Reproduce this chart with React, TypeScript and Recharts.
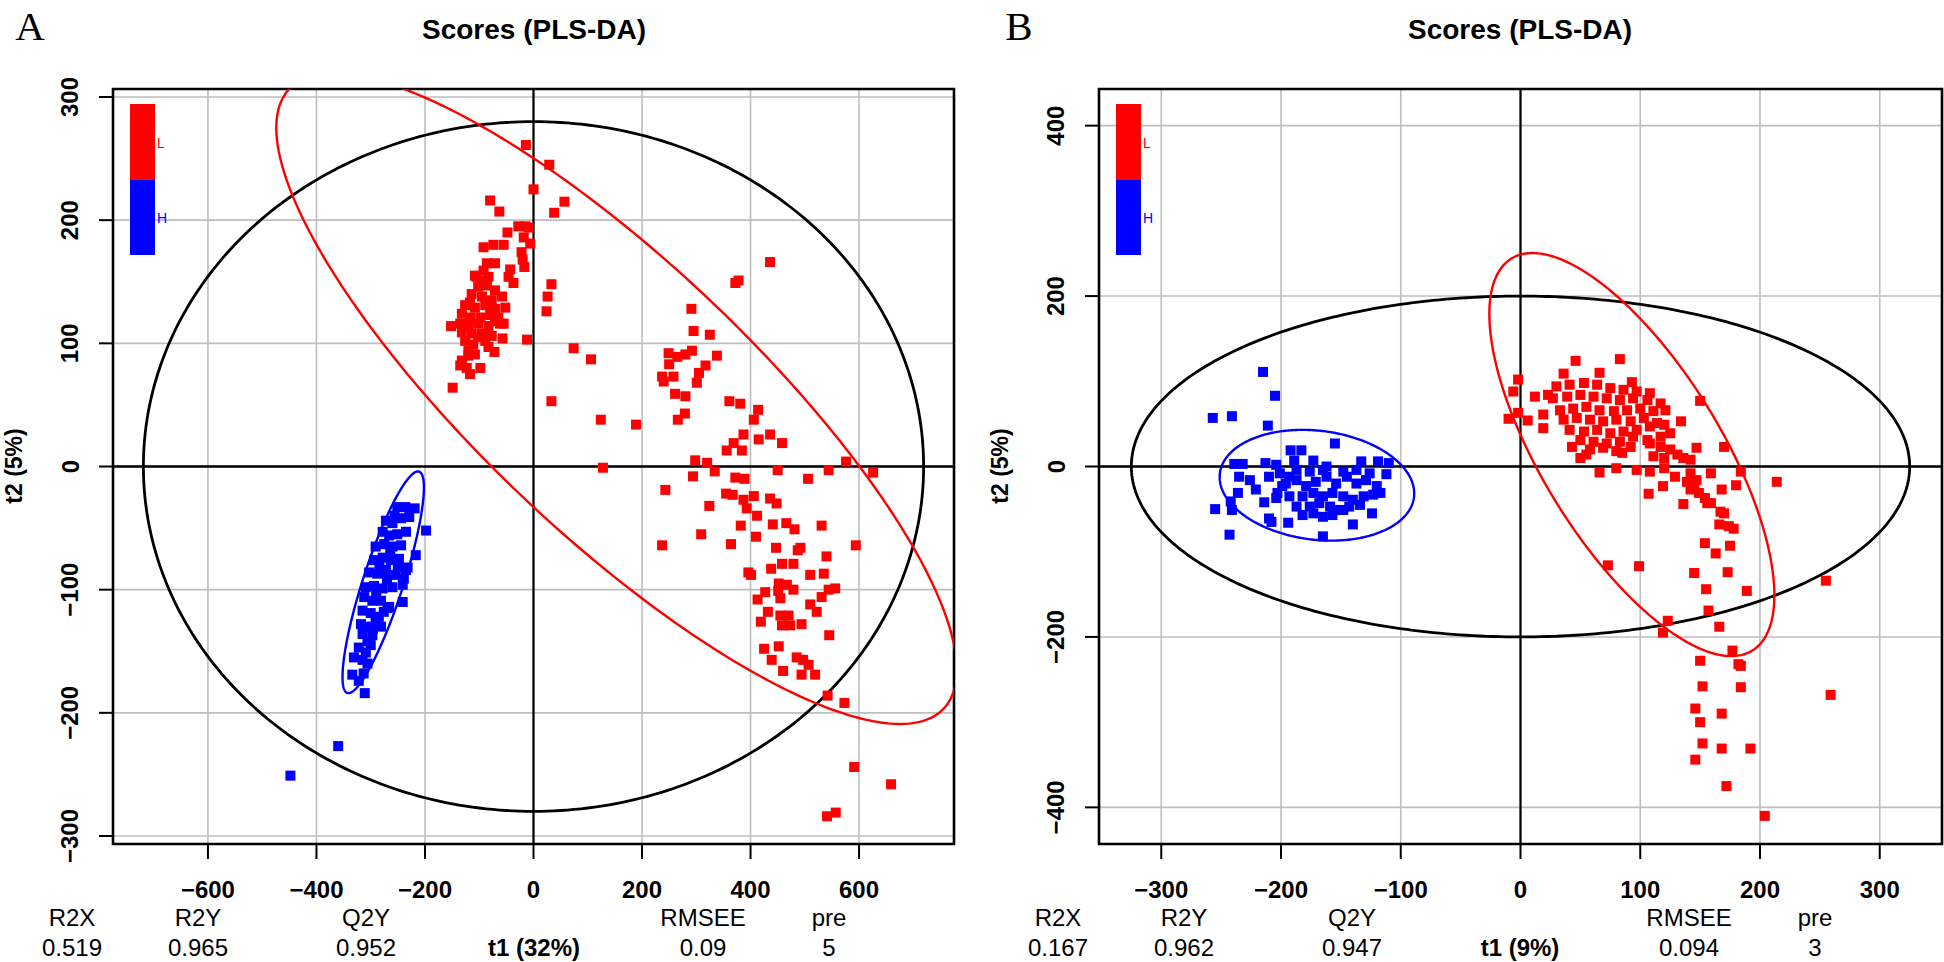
import React from 'react';
import {
  ScatterChart, Scatter, XAxis, YAxis, CartesianGrid, ReferenceLine, ReferenceArea,
} from 'recharts';

// ---------- Panel A data (t1, t2 scores) ----------
const A_L_SCORES: [number, number][] = [
  [-14,261],[29,245],[0,225],[-80,216],[-63,207],[57,215],[38,206],[-48,190],[-28,195],[-15,195],[-9,194],[-18,186],[-6,181],
  [-92,178],[-74,180],[-55,180],[-22,174],[-20,168],[-17,162],[-71,165],[-43,160],[-46,154],[-37,149],[-108,155],[-92,159],
  [-83,154],[33,148],[26,138],[24,126],
  [-102,146],[-86,147],[-71,143],[-114,140],[-95,138],[-77,135],[-58,138],[-126,131],[-108,129],[-89,131],[-71,128],[-52,129],
  [-132,124],[-117,121],[-98,121],[-80,123],[-65,121],[-135,116],[-120,114],[-102,116],[-83,114],[-62,116],[-55,116],[-132,109],
  [-114,108],[-95,108],[-77,106],[-126,102],[-111,99],[-89,102],[-120,94],[-108,91],[-132,86],[-123,80],[-135,82],[-117,75],
  [-120,90],[-105,154],[-86,165],[-95,151],[-117,133],[-71,118],[-102,105],[-83,97],
  [-152,114],[-57,104],[-12,103],[-72,93],[-98,80],[-149,64],[74,96],[106,87],[33,53],[124,38],[189,34],[128,-1],
  [291,128],[295,110],[325,107],[249,92],[265,89],[280,91],[292,94],[250,83],[338,90],[317,82],[305,76],[301,68],[258,73],
  [240,69],[237,73],[261,59],[280,57],[279,43],[266,38],[298,5],[320,3],[436,166],[372,149],[378,151],[361,53],[381,51],
  [414,46],[406,38],[387,26],[369,19],[356,13],[384,13],[415,22],[436,26],[458,19],[576,4],[334,-4],[450,-3],[544,-3],
  [506,-10],[626,-5],[294,-8],[372,-9],[389,-10],[243,-19],[355,-22],[367,-23],[387,-27],[406,-24],[393,-34],[436,-26],
  [448,-30],[324,-32],[412,-40],[382,-48],[441,-47],[466,-46],[481,-51],[531,-48],[309,-55],[410,-57],[364,-63],[447,-66],
  [487,-68],[492,-66],[540,-73],[594,-64],[237,-64],
  [396,-86],[401,-88],[438,-83],[458,-79],[479,-79],[510,-88],[535,-87],[452,-95],[467,-96],[479,-100],[451,-101],[427,-102],
  [413,-108],[455,-107],[544,-100],[556,-99],[531,-106],[510,-112],[522,-118],[432,-118],[419,-126],[455,-121],[470,-121],
  [458,-129],[473,-129],[494,-128],[545,-137],[425,-148],[452,-146],[439,-157],[460,-166],[485,-155],[497,-157],[507,-161],
  [494,-169],[519,-169],[542,-186],[573,-192],[591,-244],[659,-258],[541,-284],[557,-281],
];
const A_H_SCORES: [number, number][] = [
  [-251,-33],[-236,-33],[-219,-34],[-198,-52],[-272,-44],[-260,-46],[-244,-42],[-229,-41],[-278,-53],[-266,-56],[-251,-55],
  [-235,-53],[-291,-65],[-275,-63],[-260,-65],[-244,-64],[-217,-72],[-294,-76],[-278,-74],[-263,-76],[-248,-75],[-232,-82],
  [-235,-84],[-303,-86],[-288,-87],[-272,-84],[-254,-88],[-239,-91],[-309,-98],[-294,-97],[-278,-99],[-260,-98],[-241,-96],
  [-312,-106],[-297,-109],[-281,-109],[-266,-114],[-241,-110],[-315,-117],[-300,-119],[-285,-122],[-269,-115],[-318,-128],
  [-306,-130],[-291,-126],[-281,-130],[-315,-136],[-297,-137],[-306,-142],[-322,-147],[-309,-151],[-300,-145],[-331,-155],
  [-315,-157],[-306,-160],[-334,-169],[-322,-174],[-313,-168],[-311,-184],[-256,-40],[-284,-80],[-270,-92],[-290,-102],
  [-276,-118],[-296,-132],[-264,-70],[-250,-82],[-360,-227],[-448,-251],
];

// ---------- Panel B data ----------
const B_L_SCORES: [number, number][] = [
  [46,124],[83,126],[36,109],[66,110],[-2,102],[-6,88],[93,99],[12,82],[23,84],[150,77],[-10,56],[-2,63],[6,54],[19,61],
  [19,45],[134,53],[43,23],[50,10],[55,14],[85,16],[66,-7],[80,-2],[97,-4],[108,-6],
  [30,94],[41,96],[53,98],[64,96],[75,92],[86,90],[97,88],[108,86],
  [27,80],[39,82],[50,84],[61,82],[72,80],[83,78],[94,80],[106,78],[117,74],
  [33,66],[44,68],[55,70],[66,66],[78,65],[89,66],[100,68],[111,65],[121,66],
  [36,55],[47,57],[58,55],[69,53],[80,55],[92,53],[103,57],[114,51],
  [41,43],[53,41],[64,43],[75,39],[86,41],[97,43],[108,47],[120,49],
  [50,31],[61,29],[72,27],[83,29],[94,35],[106,31],[117,35],[125,39],
  [58,20],[69,22],[80,18],[92,23],
  [108,27],[117,23],[125,20],[111,12],[120,10],[131,14],[136,10],[142,8],[147,22],[170,23],[120,-2],[129,-12],[142,-8],
  [147,-16],[159,-8],[184,-6],[180,-22],[168,-27],[214,-18],[107,-32],[119,-23],[136,-44],[142,-27],[145,-23],[149,-31],
  [154,-37],[159,-43],[167,-53],[170,-55],[139,-18],
  [156,-43],[166,-68],[174,-70],[178,-73],[154,-90],[163,-102],[175,-93],[73,-116],[99,-117],[145,-125],[173,-124],
  [155,-144],[189,-146],[157,-169],[255,-134],[123,-181],[119,-195],[166,-188],[177,-216],[150,-228],[182,-232],[184,-234],
  [152,-258],[184,-259],[259,-268],[146,-284],[168,-290],[150,-300],[152,-325],[168,-331],[192,-331],[146,-344],[172,-375],
  [204,-410],
];
const B_H_SCORES: [number, number][] = [
  [-215,111],[-205,83],[-257,57],[-241,59],[-211,48],[-155,27],[-192,19],[-183,19],[-189,7],[-239,3],[-232,3],[-213,4],
  [-204,2],[-173,7],[-162,0],[-133,6],[-119,6],[-110,4],[-235,-12],[-226,-16],[-221,-27],[-210,-12],[-201,-8],[-193,-12],
  [-112,-9],[-236,-31],[-242,-41],[-214,-42],[-204,-37],[-255,-50],[-241,-51],[-243,-80],[-210,-61],[-208,-65],[-194,-66],
  [-165,-82],[-140,-68],[-124,-55],
  [-196,-20],[-187,-16],[-179,-23],[-171,-18],[-162,-12],[-154,-20],[-145,-12],[-137,-20],[-129,-16],[-120,-23],
  [-182,-35],[-173,-31],[-165,-35],[-157,-31],[-148,-35],[-140,-39],[-131,-35],[-123,-33],[-117,-31],
  [-176,-47],[-168,-43],[-159,-47],[-151,-51],[-143,-47],[-134,-45],[-182,-57],[-173,-55],[-165,-59],[-157,-57],[-148,-51],
  [-187,-47],[-193,-35],[-199,-23],[-203,-31],[-187,-4],[-176,-6],[-165,-4],[-148,-6],[-137,-4],[-126,-8],
];

// ---------- Confidence ellipses (centre and covariance-like shape, in score units) ----------
type Ell = { cx: number; cy: number; sxx: number; syy: number; sxy: number };
const A_ELL_ALL: Ell = { cx: 0, cy: 0, sxx: 719 * 719, syy: 280 * 280, sxy: 0 };
const A_ELL_L: Ell = { cx: 153, cy: 55, sxx: 627 * 627, syy: 69716, sxy: -137940 };
const A_ELL_H: Ell = { cx: -277, cy: -94, sxx: 5625, syy: 8100, sxy: 5760 };
const B_ELL_ALL: Ell = { cx: 0, cy: 0, sxx: 325 * 325, syy: 200 * 200, sxy: 0 };
const B_ELL_L: Ell = { cx: 93, cy: 14, sxx: 14161, syy: 55932, sxy: -19630 };
const B_ELL_H: Ell = { cx: -170, cy: -22, sxx: 6600, syy: 4225, sxy: -780 };

// ---------- Axis ticks and texts ----------
const A_X_TICKS = [-600, -400, -200, 0, 200, 400, 600];
const A_Y_TICKS = [-300, -200, -100, 0, 100, 200, 300];
const B_X_TICKS = [-300, -200, -100, 0, 100, 200, 300];
const B_Y_TICKS = [-400, -200, 0, 200, 400];
const STAT_NAMES = ['R2X', 'R2Y', 'Q2Y', 'RMSEE', 'pre'];
const A_STATS = ['0.519', '0.965', '0.952', '0.09', '5'];
const B_STATS = ['0.167', '0.962', '0.947', '0.094', '3'];

const FONT = "'Liberation Sans', Arial, Helvetica, sans-serif";
const RED = '#ff0000';
const BLUE = '#0000ff';

function ellipsePoints(e: Ell, n = 360) {
  const a = Math.sqrt(e.sxx);
  const b = e.sxy / a;
  const c = Math.sqrt(e.syy - b * b);
  const pts: { x: number; y: number }[] = [];
  for (let i = 0; i <= n; i++) {
    const t = (2 * Math.PI * i) / n;
    pts.push({ x: e.cx + a * Math.cos(t), y: e.cy + b * Math.cos(t) + c * Math.sin(t) });
  }
  return pts;
}

const toPts = (arr: [number, number][]) => arr.map(([x, y]) => ({ x, y }));
const fmt = (v: number) => (v < 0 ? '\u2212' + Math.abs(v) : String(v));

const XTick = (p: any) => (
  <text x={p.x} y={p.y + 30} textAnchor="middle" dominantBaseline="central"
    fontFamily={FONT} fontWeight="bold" fontSize={24} fill="#000">{fmt(p.payload.value)}</text>
);
const YTick = (p: any) => {
  const cx = p.x - 29;
  return (
    <text x={cx} y={p.y} textAnchor="middle" dominantBaseline="central" transform={`rotate(-90, ${cx}, ${p.y})`}
      fontFamily={FONT} fontWeight="bold" fontSize={24} fill="#000">{fmt(p.payload.value)}</text>
  );
};

const square = (color: string) => (p: any) => (
  <rect x={p.cx - 5} y={p.cy - 5} width={10} height={10} fill={color} />
);
const noShape = () => <g />;

type PanelCfg = {
  left: number; ml: number; mr: number;
  xDomain: [number, number]; yDomain: [number, number];
  xTicks: number[]; yTicks: number[];
  L: [number, number][]; H: [number, number][];
  eAll: Ell; eL: Ell; eH: Ell;
};

const Panel = ({ c }: { c: PanelCfg }) => (
  <div style={{ position: 'absolute', left: c.left, top: 0 }}>
    <ScatterChart width={972} height={962} margin={{ top: 89, right: c.mr, bottom: 58, left: c.ml }}>
      <CartesianGrid stroke="#bebebe" strokeWidth={1.6} />
      <XAxis type="number" dataKey="x" domain={c.xDomain} ticks={c.xTicks} allowDataOverflow interval={0}
        axisLine={false} tickLine={{ stroke: '#000', strokeWidth: 2 }} tickSize={15} tickMargin={0} height={60} tick={XTick} />
      <YAxis type="number" dataKey="y" domain={c.yDomain} ticks={c.yTicks} allowDataOverflow interval={0}
        axisLine={false} tickLine={{ stroke: '#000', strokeWidth: 2 }} tickSize={14} tickMargin={0} width={60} tick={YTick} />
      <ReferenceLine x={0} stroke="#000" strokeWidth={2.2} />
      <ReferenceLine y={0} stroke="#000" strokeWidth={2.6} />
      <Scatter data={ellipsePoints(c.eAll)} shape={noShape} line={{ stroke: '#000', strokeWidth: 2.8 }} isAnimationActive={false} />
      <Scatter data={ellipsePoints(c.eL)} shape={noShape} line={{ stroke: RED, strokeWidth: 2.4 }} isAnimationActive={false} />
      <Scatter data={ellipsePoints(c.eH)} shape={noShape} line={{ stroke: BLUE, strokeWidth: 2.4 }} isAnimationActive={false} />
      <Scatter data={toPts(c.L)} shape={square(RED)} isAnimationActive={false} />
      <Scatter data={toPts(c.H)} shape={square(BLUE)} isAnimationActive={false} />
      <ReferenceArea x1={c.xDomain[0]} x2={c.xDomain[1]} y1={c.yDomain[0]} y2={c.yDomain[1]}
        fill="none" fillOpacity={0} stroke="#000" strokeWidth={2.6} />
    </ScatterChart>
  </div>
);

const T = ({ x, y, children, style }: any) => (
  <div style={{ position: 'absolute', left: x, top: y, transform: 'translate(-50%, -50%)', whiteSpace: 'nowrap',
    lineHeight: 1, fontFamily: FONT, fontSize: 24, color: '#000', ...style }}>{children}</div>
);

const Decor = ({ ox, letter, stats, t1 }: { ox: number; letter: string; stats: string[]; t1: string }) => {
  const sx = [72, 198, 366, 703, 829].map((v) => v + ox);
  return (
    <>
      <T x={ox + 30 + (letter === 'B' ? 3 : 0)} y={27} style={{ fontFamily: "'Liberation Serif', 'Times New Roman', serif", fontSize: 41, lineHeight: 1.3 }}>{letter}</T>
      <T x={ox + 534} y={30} style={{ fontWeight: 'bold', fontSize: 28 }}>Scores (PLS-DA)</T>
      <div style={{ position: 'absolute', left: ox + 14, top: 466, transform: 'translate(-50%, -50%) rotate(-90deg)',
        whiteSpace: 'nowrap', lineHeight: 1, fontFamily: FONT, fontWeight: 'bold', fontSize: 23 }}>t2 (5%)</div>
      {STAT_NAMES.map((n, i) => <T key={n} x={sx[i]} y={918}>{n}</T>)}
      {stats.map((v, i) => <T key={'v' + i} x={sx[i]} y={948}>{v}</T>)}
      <T x={ox + 534} y={948} style={{ fontWeight: 'bold' }}>{t1}</T>
    </>
  );
};

const LegendBar = ({ left }: { left: number }) => (
  <>
    <div style={{ position: 'absolute', left, top: 104, width: 25, height: 76, background: RED }} />
    <div style={{ position: 'absolute', left, top: 180, width: 25, height: 75, background: BLUE }} />
    <div style={{ position: 'absolute', left: left + 27, top: 143, transform: 'translateY(-50%)', color: RED, fontFamily: FONT, fontSize: 14, lineHeight: 1 }}>L</div>
    <div style={{ position: 'absolute', left: left + 27, top: 218, transform: 'translateY(-50%)', color: BLUE, fontFamily: FONT, fontSize: 14, lineHeight: 1 }}>H</div>
  </>
);

const PANEL_A: PanelCfg = {
  left: 0, ml: 53, mr: 18, xDomain: [-775, 775], yDomain: [-306.5, 306.5],
  xTicks: A_X_TICKS, yTicks: A_Y_TICKS, L: A_L_SCORES, H: A_H_SCORES,
  eAll: A_ELL_ALL, eL: A_ELL_L, eH: A_ELL_H,
};
const PANEL_B: PanelCfg = {
  left: 972, ml: 67, mr: 2, xDomain: [-352, 352], yDomain: [-443, 443],
  xTicks: B_X_TICKS, yTicks: B_Y_TICKS, L: B_L_SCORES, H: B_H_SCORES,
  eAll: B_ELL_ALL, eL: B_ELL_L, eH: B_ELL_H,
};

export default function App() {
  return (
    <div style={{ position: 'absolute', left: 0, top: 0, width: 1944, height: 962, background: '#fff', overflow: 'hidden' }}>
      <Panel c={PANEL_A} />
      <Panel c={PANEL_B} />
      <LegendBar left={130} />
      <LegendBar left={1116} />
      <Decor ox={0} letter="A" stats={A_STATS} t1="t1 (32%)" />
      <Decor ox={986} letter="B" stats={B_STATS} t1="t1 (9%)" />
    </div>
  );
}
